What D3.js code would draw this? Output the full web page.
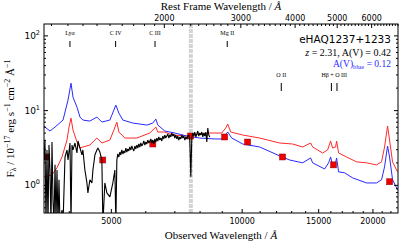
<!DOCTYPE html>
<html>
<head>
<meta charset="utf-8">
<script src="https://cdn.jsdelivr.net/npm/d3@7"></script>
<style>
  body { margin: 0; background: #fff; }
  svg { display: block; }
</style>
</head>
<body>
<div id="chart"></div>
<script>
const width = 407;
const height = 242;
const plot = { left: 44, right: 398, top: 24, bottom: 213 };

const redshift = 2.31;
const telluric = 7640;

// photometry (observed wavelength, flux)
const photWave = [3560, 4790, 6245, 7630, 9140, 10320, 12420, 16270, 21900];
const photFlux = [2.36, 2.15, 3.52, 4.5, 4.37, 3.74, 2.36, 1.85, 1.1];

// reddened model, A(V)=0.42
const redWave = [3508, 3660, 3758, 3859, 3963, 4005, 4048, 4091, 4178, 4245, 4311, 4474, 4643, 4767, 4974, 5080, 5161, 5216, 5384, 5738, 6146, 6345, 6413, 6654, 6942, 7477, 8010, 8445, 8998, 9190, 9288, 9437, 10056, 11001, 12231, 13103, 13815, 14413, 14566, 15358, 15770, 16023, 16193, 16452, 16540, 16716, 17440, 18388, 19388, 20440, 20989, 21325, 21666, 21897, 22248, 22845];
const redFlux = [1.28, 1.36, 1.69, 2.36, 3.98, 5.93, 7.82, 5.41, 3.74, 3.11, 3.21, 3.41, 4.23, 3.63, 3.98, 5.41, 6.92, 5.09, 4.23, 4.23, 4.94, 5.93, 5.09, 5.09, 4.64, 4.5, 4.79, 4.94, 4.94, 5.75, 6.51, 5.09, 4.64, 4.23, 3.63, 3.52, 3.21, 3.63, 3.21, 2.67, 2.93, 3.86, 3.11, 3.21, 3.86, 2.67, 2.36, 2.03, 1.97, 1.85, 2.03, 3.21, 6.12, 3.98, 2.03, 1.49];

// blue model, A(V)=0.12
const blueWave = [3508, 3526, 3621, 3719, 3880, 3984, 4048, 4091, 4178, 4245, 4311, 4474, 4643, 4767, 4974, 5080, 5134, 5216, 5328, 5617, 6050, 6245, 6345, 6413, 6654, 7016, 7477, 8010, 8671, 8998, 9288, 9487, 10056, 11001, 12231, 12897, 13815, 14413, 14566, 15522, 15854, 16023, 16193, 16452, 16540, 16716, 17256, 18003, 19388, 20440, 20989, 21325, 21666, 21897, 22248, 22845];
const blueFlux = [6.1, 5.93, 5.25, 5.93, 7.36, 13.6, 22.9, 14.9, 10.96, 8.07, 7.36, 7.13, 8.07, 6.92, 7.36, 10.0, 11.66, 9.12, 7.36, 6.71, 6.31, 6.71, 7.59, 6.31, 5.25, 4.94, 4.5, 4.23, 4.11, 4.11, 5.09, 4.23, 3.52, 3.21, 2.44, 2.15, 1.97, 2.29, 1.97, 1.63, 1.97, 2.36, 1.85, 1.97, 2.29, 1.49, 1.45, 1.24, 1.06, 1.06, 1.17, 1.74, 3.31, 2.36, 1.17, 0.858];

// observed spectrum (0.3 = below the plotted range)
const obsWave = [3508, 3526, 3545, 3564, 3583, 3602, 3621, 3640, 3660, 3679, 3699, 3719, 3738, 3758, 3778, 3798, 3818, 3859, 3880, 3921, 3963, 3984, 4026, 4048, 4069, 4091, 4134, 4178, 4200, 4245, 4289, 4311, 4357, 4404, 4427, 4474, 4522, 4546, 4594, 4643, 4668, 4717, 4767, 4793, 4843, 4895, 4974, 5053, 5107, 5134,
  5161, 5188, 5216, 5244, 5271, 5299, 5328, 5356, 5384, 5413, 5441, 5470, 5499, 5528, 5558, 5587, 5617, 5647, 5677, 5707, 5737, 5768, 5798, 5829, 5860, 5891, 5923, 5954, 5986, 6018, 6050, 6082, 6114, 6147, 6179, 6212, 6245, 6278, 6312, 6345, 6379, 6413, 6447, 6481, 6515, 6550, 6585, 6620, 6655, 6690, 6726, 6761, 6797, 6833, 6870, 6906, 6943, 6980, 7017, 7054, 7092, 7129, 7167, 7205, 7244, 7282, 7321, 7360, 7399, 7438, 7478, 7517, 7557, 7597, 7638, 7678, 7719, 7760, 7801, 7843, 7884, 7926, 7968, 8010, 8053, 8096, 8139, 8182, 8225, 8269, 8313, 8357, 8401, 8446];
const obsFlux = [2.15, 3.98, 0.3, 2.93, 0.3, 3.41, 1.58, 0.3, 3.74, 0.63, 0.3, 1.85, 0.3, 1.58, 0.3, 1.17, 0.3, 0.46, 0.3, 2.36, 2.93, 2.15, 3.63, 0.3, 3.41, 2.93, 3.63, 2.67, 3.86, 3.11, 2.51, 2.93, 1.58, 1.06, 0.78, 1.17, 1.06, 1.58, 2.51, 2.93, 3.11, 2.75, 2.15, 0.3, 1.06, 0.78, 0.69, 1.06, 1.58, 0.3,
  2.15, 2.59, 2.36, 2.75, 2.51, 2.93, 2.59, 2.84, 2.67, 3.11, 2.75, 3.02, 2.84, 3.21, 2.93, 3.31, 3.02, 2.84, 3.31, 3.02, 3.41, 3.11, 3.52, 3.21, 3.63, 3.31, 3.52, 3.86, 3.41, 3.74, 3.52, 3.98, 3.63, 3.86, 4.11, 3.63, 3.98, 3.52, 4.11, 3.74, 4.23, 3.86, 4.37, 3.98, 4.23, 3.86, 4.5, 4.11, 4.64, 4.23, 4.5, 4.79, 4.23, 4.64, 4.37, 4.94, 4.5, 4.79, 4.23, 4.64, 4.11, 4.5, 3.98, 4.37, 4.11, 4.64, 4.23, 4.5, 3.98, 4.37, 4.11, 4.5, 4.64, 3.98, 1.28, 4.23, 4.94, 4.5, 5.09, 4.37, 4.79, 5.25, 4.5, 4.94, 4.64, 5.09, 4.37, 4.94, 4.5, 5.09, 3.74, 5.75, 4.64, 4.37];

// emission lines (rest wavelength)
const lineNames = ["Lyα", "C IV", "C III", "Mg II", "O II", "Hβ + O III"];
const lineLabelRest = [1216, 1549, 1909, 2799, 3727, 4934];
const lineTickRest = [[1216], [1549], [1909], [2799], [3727], [4861, 5007]];

const obsTicks = [5000, 10000, 15000, 20000];
const restTicks = [2000, 3000, 4000, 5000, 6000];
const fluxTicks = [1, 10, 100];

const svg = d3.select("#chart").append("svg")
  .attr("width", width).attr("height", height)
  .style("font-family", "DejaVu Sans");

const xScale = d3.scaleLog().domain([3508, 22900]).range([plot.left, plot.right]);
const xRest = d3.scaleLog()
  .domain(xScale.domain().map(d => d / (1 + redshift)))
  .range([plot.left, plot.right]);
const yScale = d3.scaleLog().domain([0.42, 142]).range([plot.bottom, plot.top]);

svg.append("clipPath").attr("id", "clip").append("rect")
  .attr("x", plot.left).attr("y", plot.top)
  .attr("width", plot.right - plot.left).attr("height", plot.bottom - plot.top);

const data = svg.append("g").attr("clip-path", "url(#clip)");

// telluric band
data.append("line")
  .attr("x1", xScale(telluric)).attr("x2", xScale(telluric))
  .attr("y1", plot.top).attr("y2", plot.bottom)
  .attr("stroke", "#d4d4d4").attr("stroke-width", 4)
  .attr("stroke-dasharray", "4,1");

const line = d3.line().x(d => xScale(d[0])).y(d => yScale(d[1]));

data.append("path").datum(d3.zip(redWave, redFlux))
  .attr("d", line).attr("fill", "none").attr("stroke", "#ff2a2a").attr("stroke-width", 1);
data.append("path").datum(d3.zip(blueWave, blueFlux))
  .attr("d", line).attr("fill", "none").attr("stroke", "#2a2aff").attr("stroke-width", 1);

data.selectAll(".phot").data(d3.zip(photWave, photFlux)).enter()
  .append("rect").attr("class", "phot")
  .attr("x", d => xScale(d[0]) - 3).attr("y", d => yScale(d[1]) - 3)
  .attr("width", 6).attr("height", 6)
  .attr("fill", (d, i) => i === 0 ? "#8a1010" : "#ee0000")
  .attr("stroke", "#990000").attr("stroke-width", 0.5);

data.append("path").datum(d3.zip(obsWave, obsFlux))
  .attr("d", line).attr("fill", "none").attr("stroke", "#000").attr("stroke-width", 1.1)
  .attr("stroke-linejoin", "bevel");

// emission line markers
lineNames.forEach((name, i) => {
  const low = lineLabelRest[i] > 3500;
  const ty = low ? 77 : 35;
  svg.append("text")
    .attr("x", xScale(lineLabelRest[i] * (1 + redshift))).attr("y", ty)
    .attr("text-anchor", "middle")
    .attr("font-family", "Liberation Serif").attr("font-size", 6)
    .text(name);
  lineTickRest[i].forEach(r => {
    svg.append("line")
      .attr("x1", xScale(r * (1 + redshift))).attr("x2", xScale(r * (1 + redshift)))
      .attr("y1", ty + 6).attr("y2", ty + (low ? 14 : 12))
      .attr("stroke", "#000").attr("stroke-width", 1);
  });
});

// frame
svg.append("rect")
  .attr("x", plot.left).attr("y", plot.top)
  .attr("width", plot.right - plot.left).attr("height", plot.bottom - plot.top)
  .attr("fill", "none").attr("stroke", "#000").attr("stroke-width", 1);

function styleAxis(g) {
  g.select(".domain").remove();
  g.selectAll("text").attr("font-family", "DejaVu Sans").attr("font-size", 8).attr("fill", "#000");
  g.selectAll("line").attr("stroke", "#000");
}

// bottom axis
svg.append("g").attr("transform", `translate(0,${plot.bottom})`)
  .call(d3.axisBottom(xScale).tickValues(obsTicks).tickFormat(d3.format("d")).tickSize(-4).tickPadding(5))
  .call(styleAxis);
svg.append("g").attr("transform", `translate(0,${plot.bottom})`)
  .call(d3.axisBottom(xScale).tickValues(d3.range(4000, 23000, 1000).filter(d => d % 5000))
    .tickFormat("").tickSize(-2))
  .call(styleAxis);

// top axis (rest frame)
svg.append("g").attr("transform", `translate(0,${plot.top})`)
  .call(d3.axisTop(xRest).tickValues(restTicks).tickFormat(d3.format("d")).tickSize(-4).tickPadding(3))
  .call(styleAxis);
svg.append("g").attr("transform", `translate(0,${plot.top})`)
  .call(d3.axisTop(xRest).tickValues(d3.range(1100, 7000, 100).filter(d => d % 1000))
    .tickFormat("").tickSize(-2))
  .call(styleAxis);

// left / right axes
const minorY = yScale.ticks().filter(d => Math.abs(Math.log10(d) % 1) > 1e-6);
const yLeft = svg.append("g").attr("transform", `translate(${plot.left},0)`)
  .call(d3.axisLeft(yScale).tickValues(fluxTicks).tickSize(-4).tickPadding(4).tickFormat(""))
  .call(styleAxis);
yLeft.selectAll(".tick text").each(function (d) {
  const t = d3.select(this).attr("font-size", 9);
  t.append("tspan").text("10");
  t.append("tspan").attr("dy", -4).attr("font-size", 6.5).text(Math.round(Math.log10(d)));
});
svg.append("g").attr("transform", `translate(${plot.left},0)`)
  .call(d3.axisLeft(yScale).tickValues(minorY).tickFormat("").tickSize(-2))
  .call(styleAxis);
svg.append("g").attr("transform", `translate(${plot.right},0)`)
  .call(d3.axisRight(yScale).tickValues(fluxTicks).tickFormat("").tickSize(-4))
  .call(styleAxis);
svg.append("g").attr("transform", `translate(${plot.right},0)`)
  .call(d3.axisRight(yScale).tickValues(minorY).tickFormat("").tickSize(-2))
  .call(styleAxis);

// axis titles
const cx = (plot.left + plot.right) / 2;
const xt = svg.append("text").attr("x", cx).attr("y", 239).attr("text-anchor", "middle")
  .attr("font-family", "Liberation Serif").attr("font-size", 11);
xt.append("tspan").text("Observed Wavelength / ");
xt.append("tspan").attr("font-style", "italic").text("Å");

const tt = svg.append("text").attr("x", cx).attr("y", 10).attr("text-anchor", "middle")
  .attr("font-family", "Liberation Serif").attr("font-size", 11);
tt.append("tspan").text("Rest Frame Wavelength / ");
tt.append("tspan").attr("font-style", "italic").text("Å");

const yt = svg.append("text")
  .attr("transform", `translate(14,${(plot.top + plot.bottom) / 2}) rotate(-90)`)
  .attr("text-anchor", "middle")
  .attr("font-family", "Liberation Serif").attr("font-size", 11);
yt.append("tspan").text("F");
yt.append("tspan").attr("dy", 2).attr("font-size", 8).text("λ");
yt.append("tspan").attr("dy", -2).text(" / 10");
yt.append("tspan").attr("dy", -4).attr("font-size", 8).text("−17");
yt.append("tspan").attr("dy", 4).text(" erg s");
yt.append("tspan").attr("dy", -4).attr("font-size", 8).text("−1");
yt.append("tspan").attr("dy", 4).text(" cm");
yt.append("tspan").attr("dy", -4).attr("font-size", 8).text("−2");
yt.append("tspan").attr("dy", 4).text(" Å");
yt.append("tspan").attr("dy", -4).attr("font-size", 8).text("−1");

// annotation
svg.append("text").attr("x", 391).attr("y", 43).attr("text-anchor", "end")
  .attr("font-family", "DejaVu Sans").attr("font-size", 10.5).text("eHAQ1237+1233");
const l2 = svg.append("text").attr("x", 391).attr("y", 56).attr("text-anchor", "end")
  .attr("font-family", "Liberation Serif").attr("font-size", 10);
l2.append("tspan").attr("font-style", "italic").text("z");
l2.append("tspan").text(" = 2.31, A(V) = 0.42");
const l3 = svg.append("text").attr("x", 391).attr("y", 67).attr("text-anchor", "end")
  .attr("font-family", "Liberation Serif").attr("font-size", 9.5).attr("fill", "#2a2aff");
l3.append("tspan").text("A(V)");
l3.append("tspan").attr("dy", 2).attr("font-size", 6.5).text("blue");
l3.append("tspan").attr("dy", -2).text(" = 0.12");
</script>
</body>
</html>
